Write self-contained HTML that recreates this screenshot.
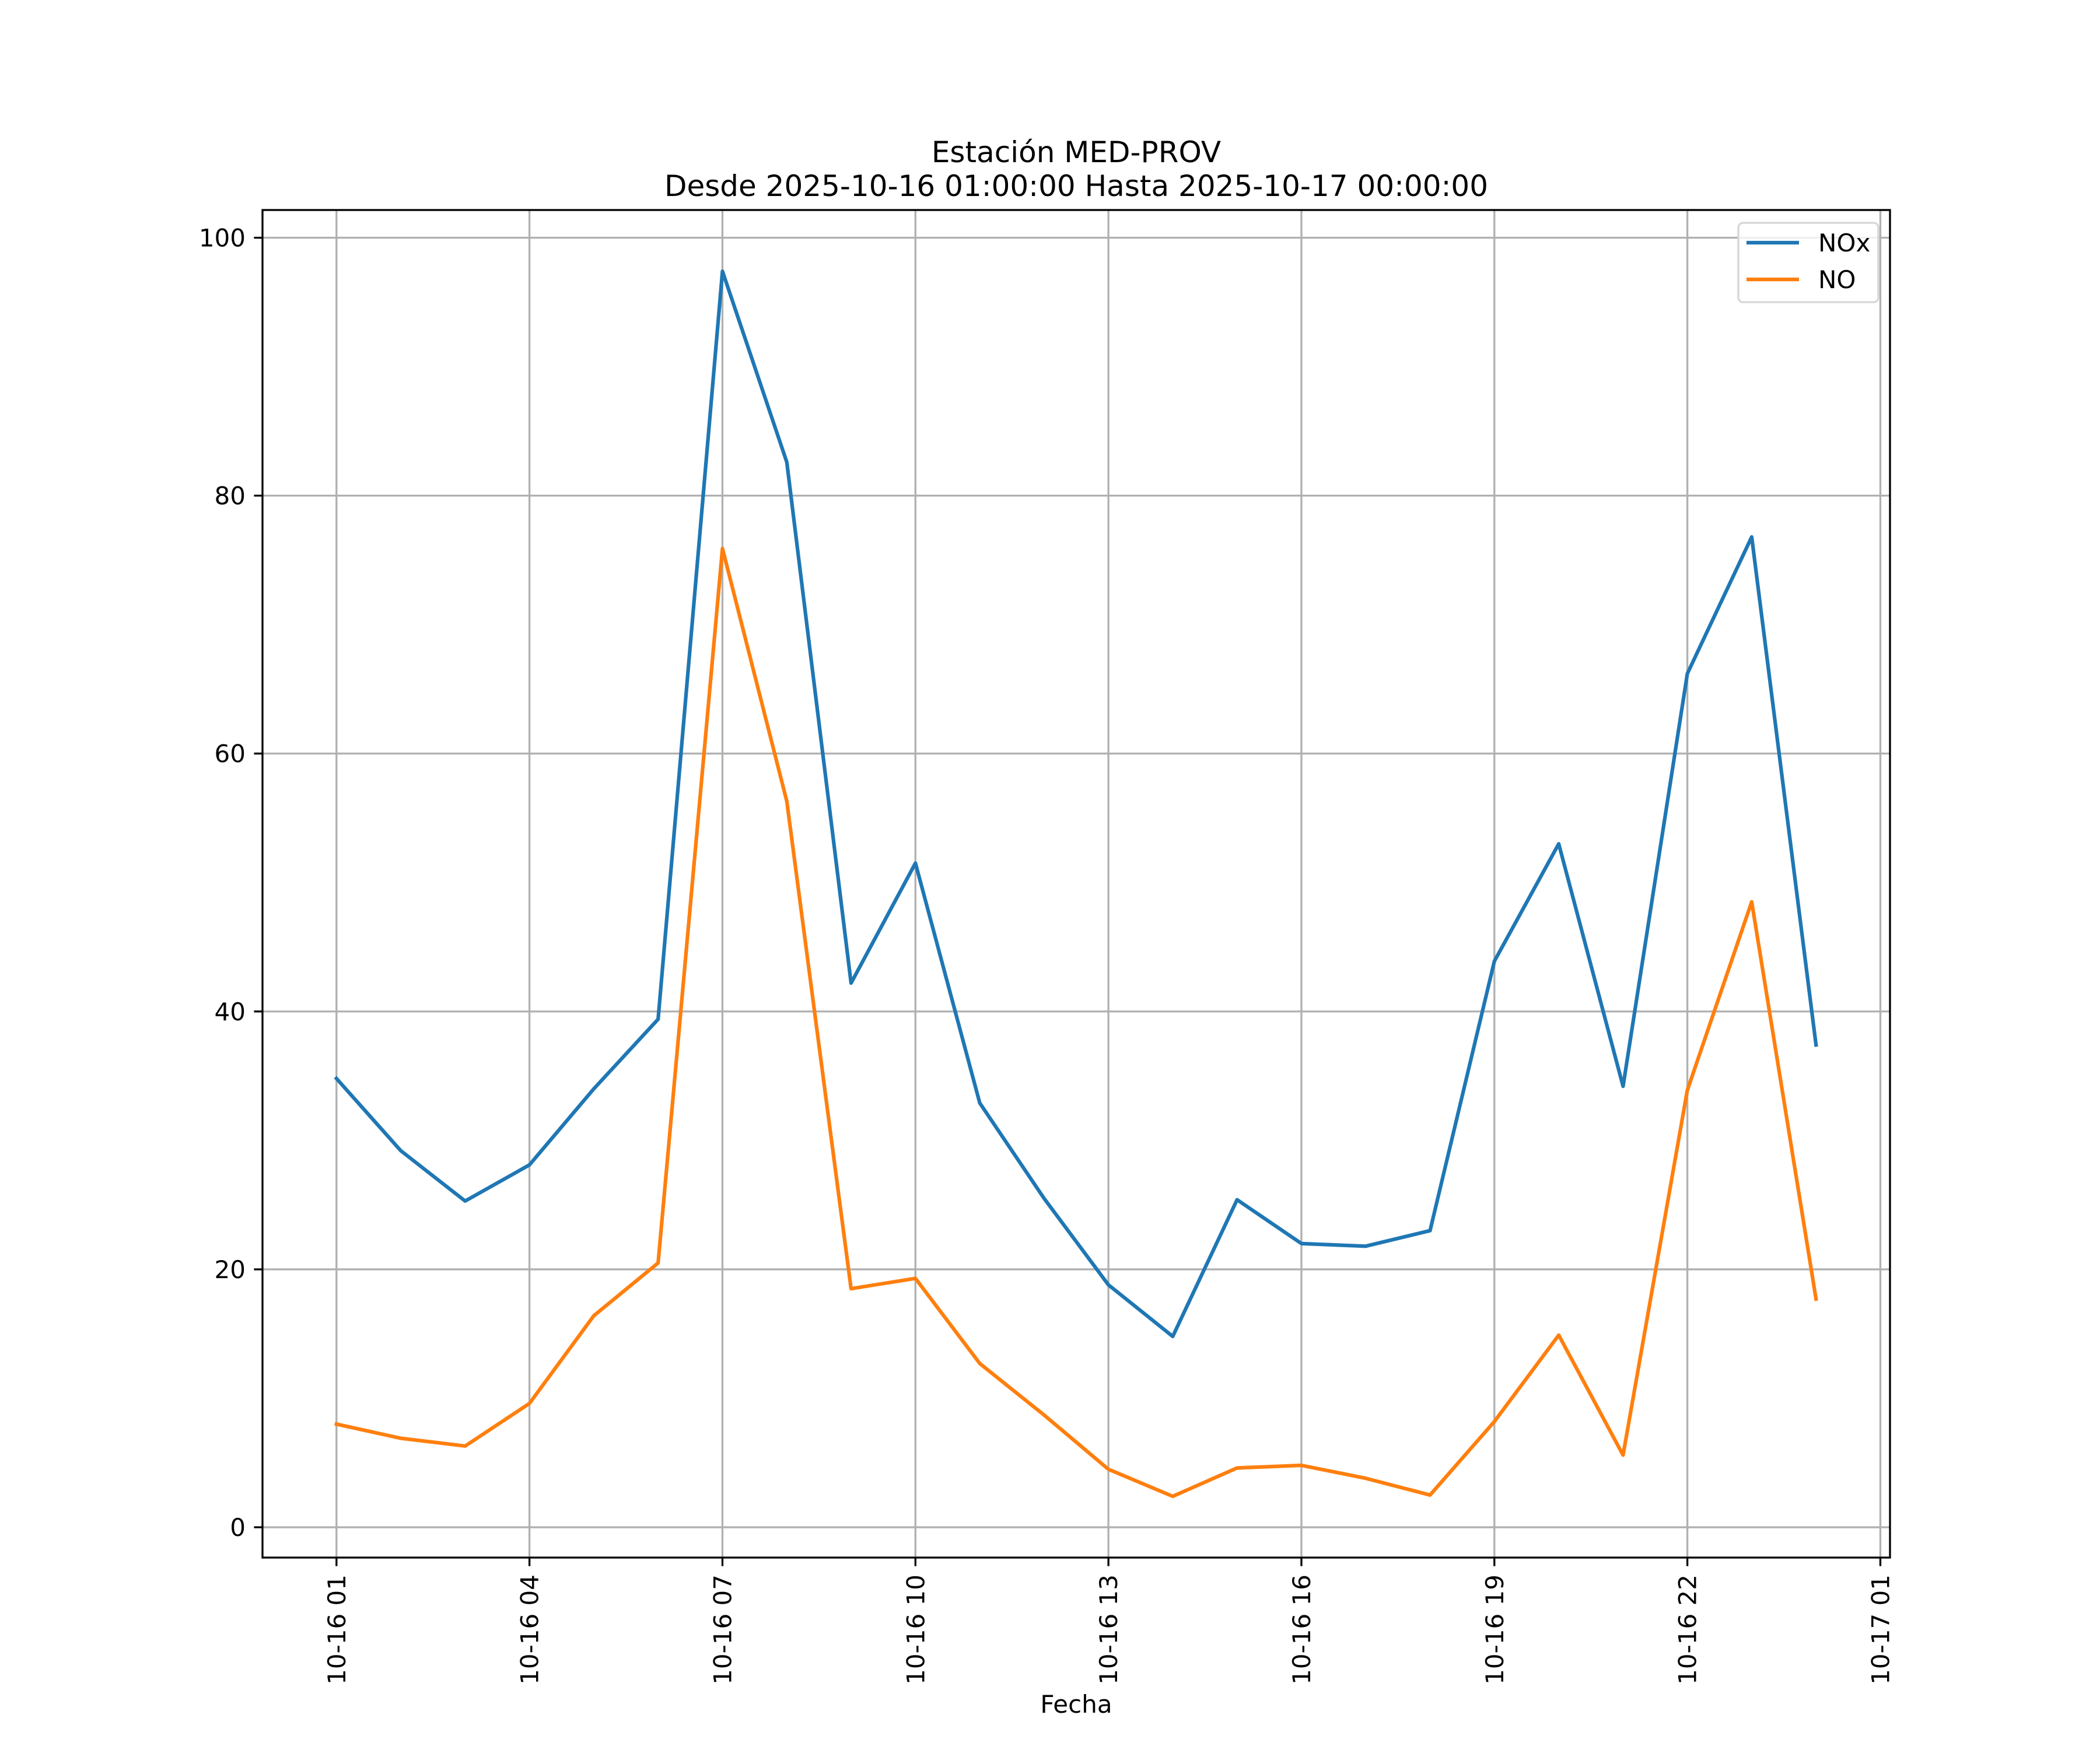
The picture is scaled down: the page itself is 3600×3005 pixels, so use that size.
<!DOCTYPE html>
<html><head><meta charset="utf-8"><style>
html,body{margin:0;padding:0;background:#fff;}
svg text{font-family:"DejaVu Sans","Liberation Sans",sans-serif;fill:#000;}
</style></head><body>
<svg id="chart" xmlns="http://www.w3.org/2000/svg" width="3600" height="3000" viewBox="0 0 3600 3000">
<rect width="3600" height="3000" fill="#fff"/>
<text x="1845" y="278" font-size="50" text-anchor="middle">Estación MED-PROV</text>
<text x="1845" y="336" font-size="50" text-anchor="middle">Desde 2025-10-16 01:00:00 Hasta 2025-10-17 00:00:00</text>
<g id="grid"></g>
<g id="series"></g>
<rect x="450" y="360" width="2790" height="2310" fill="none" stroke="#000" stroke-width="3.3"/>
<g id="ticks"></g>
<text x="1845" y="2936" font-size="42" text-anchor="middle">Fecha</text>
<g>
<rect x="2980" y="382" width="240" height="136" rx="8" fill="#fff" fill-opacity="0.8" stroke="#d6d6d6" stroke-width="3.3"/>
<line x1="2994" y1="416" x2="3084" y2="416" stroke="#1f77b4" stroke-width="6.25"/>
<text x="3117" y="431" font-size="42">NOx</text>
<line x1="2994" y1="479" x2="3084" y2="479" stroke="#ff7f0e" stroke-width="6.25"/>
<text x="3117" y="494" font-size="42">NO</text>
</g>
</svg>
<script>
const hours = [1,2,3,4,5,6,7,8,9,10,11,12,13,14,15,16,17,18,19,20,21,22,23,24];
const noxValues = [34.8,29.2,25.3,28.1,34.0,39.4,97.4,82.6,42.2,51.5,32.9,25.5,18.8,14.8,25.4,22.0,21.8,23.0,43.9,53.0,34.2,66.2,76.8,37.4];
const noValues = [8.0,6.9,6.3,9.6,16.4,20.5,75.9,56.3,18.5,19.3,12.7,8.7,4.5,2.4,4.6,4.8,3.8,2.5,8.2,14.9,5.6,33.9,48.5,17.7];
const xTickHours = [1,4,7,10,13,16,19,22,25];
const xTickLabels = ["10-16 01","10-16 04","10-16 07","10-16 10","10-16 13","10-16 16","10-16 19","10-16 22","10-17 01"];
const yTickValues = [0,20,40,60,80,100];

const NS = "http://www.w3.org/2000/svg";
const L=450,R=3240,T=360,B=2670;
const allV = noxValues.concat(noValues);
const vmin = Math.min(...allV), vmax = Math.max(...allV);
const ypad = (vmax-vmin)*0.05;
const y0 = vmin-ypad, y1 = vmax+ypad;
const hmin = Math.min(...hours), hmax = Math.max(...hours);
const xpad = (hmax-hmin)*0.05;
const x0 = hmin-xpad, x1 = hmax+xpad;
function sx(h){return L+(h-x0)/(x1-x0)*(R-L);}
function sy(v){return B-(v-y0)/(y1-y0)*(B-T);}
function mk(tag,attrs,parent){const e=document.createElementNS(NS,tag);for(const k in attrs)e.setAttribute(k,attrs[k]);parent.appendChild(e);return e;}
const grid=document.getElementById('grid'), ticks=document.getElementById('ticks'), series=document.getElementById('series');
xTickHours.forEach((h,i)=>{
  const x=sx(h);
  const g=mk('line',{x1:x,y1:T,x2:x,y2:B,stroke:'#b0b0b0','stroke-width':3.3},grid);
  
  
  const t=mk('line',{x1:x,y1:B,x2:x,y2:B+14.6,stroke:'#000','stroke-width':3.3},ticks);
  
  
  const tx=mk('text',{x:0,y:0,'font-size':42,'text-anchor':'end',transform:`translate(${x+15},${B+29}) rotate(-90)`},ticks);
  tx.textContent=xTickLabels[i];
  
  
});
yTickValues.forEach(v=>{
  const y=sy(v);
  const g=mk('line',{x1:L,y1:y,x2:R,y2:y,stroke:'#b0b0b0','stroke-width':3.3},grid);
  
  
  const t=mk('line',{x1:L-14.6,y1:y,x2:L,y2:y,stroke:'#000','stroke-width':3.3},ticks);
  
  
  const tx=mk('text',{x:L-29,y:y+15,'font-size':42,'text-anchor':'end'},ticks);
  tx.textContent=String(v);
  
  
});
function line(vals,color,name){
  const pts=vals.map((v,i)=>sx(hours[i]).toFixed(1)+','+sy(v).toFixed(1)).join(' ');
  const p=mk('polyline',{points:pts,fill:'none',stroke:color,'stroke-width':6.25,'stroke-linejoin':'round','stroke-linecap':'square'},series);
  
  
}
line(noxValues,'#1f77b4','nox-line');
line(noValues,'#ff7f0e','no-line');
</script>
</body></html>
